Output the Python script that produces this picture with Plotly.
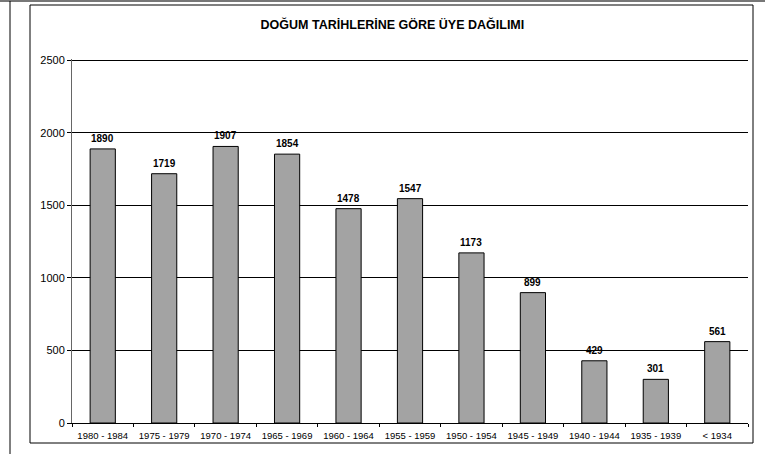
import plotly.graph_objects as go

categories = ["1980 - 1984", "1975 - 1979", "1970 - 1974", "1965 - 1969", "1960 - 1964",
              "1955 - 1959", "1950 - 1954", "1945 - 1949", "1940 - 1944", "1935 - 1939", "< 1934"]
values = [1890, 1719, 1907, 1854, 1478, 1547, 1173, 899, 429, 301, 561]
y_ticks = [0, 500, 1000, 1500, 2000, 2500]

W, H = 765, 454
L, R, T, B = 72, 748, 59, 423

def px(x):
    return (x - L) / (R - L)

def py(y):
    return (B - y) / (B - T)

fig = go.Figure(go.Bar(
    x=categories, y=values,
    marker=dict(color="#a3a3a3", line=dict(color="#000000", width=1)),
    width=0.41, hoverinfo="x+y",
))

annotations = [
    dict(x=c, y=v, xref="x", yref="y", text="<b>%d</b>" % v, showarrow=False,
         yanchor="bottom", xanchor="center", yshift=3,
         font=dict(family="Liberation Sans, Arial", size=10, color="#000000"))
    for c, v in zip(categories, values)
]

fig.update_layout(
    width=W, height=H,
    margin=dict(l=L, r=W - R, t=T, b=H - B),
    paper_bgcolor="white", plot_bgcolor="white",
    font=dict(family="Liberation Sans, Arial", size=9.5, color="#000000"),
    title=dict(text="<b>DOĞUM TARİHLERİNE GÖRE ÜYE DAĞILIMI</b>", x=0.513, xanchor="center",
               y=1 - 25 / H, yanchor="middle", font=dict(size=12.5, color="#000000")),
    showlegend=False,
    annotations=annotations,
    xaxis=dict(showline=True, linecolor="#000000", linewidth=1, ticks="outside", ticklen=3,
               tickcolor="#000000", tickson="boundaries", showgrid=False,
               tickfont=dict(size=9.5), range=[-0.5, 10.5], ticklabelstandoff=4),
    yaxis=dict(range=[0, y_ticks[-1] + 10], tickvals=y_ticks, showline=True, linecolor="#666666", linewidth=1,
               ticks="outside", ticklen=4, tickcolor="#000000", showgrid=True, gridcolor="#000000",
               gridwidth=1, zeroline=False, tickfont=dict(size=11)),
    shapes=[
        dict(type="line", xref="paper", yref="paper", x0=px(0), x1=px(W), y0=py(1), y1=py(1),
             line=dict(color="#777777", width=2)),
        dict(type="line", xref="paper", yref="paper", x0=px(10), x1=px(10), y0=py(1), y1=py(H),
             line=dict(color="#000000", width=1)),
        dict(type="rect", xref="paper", yref="paper", x0=px(30), x1=px(753), y0=py(5), y1=py(443),
             line=dict(color="#000000", width=1), fillcolor="rgba(0,0,0,0)"),
    ],
)

fig.write_html("out.html", config={"displayModeBar": False},
               post_script="document.body.style.margin='0';")
